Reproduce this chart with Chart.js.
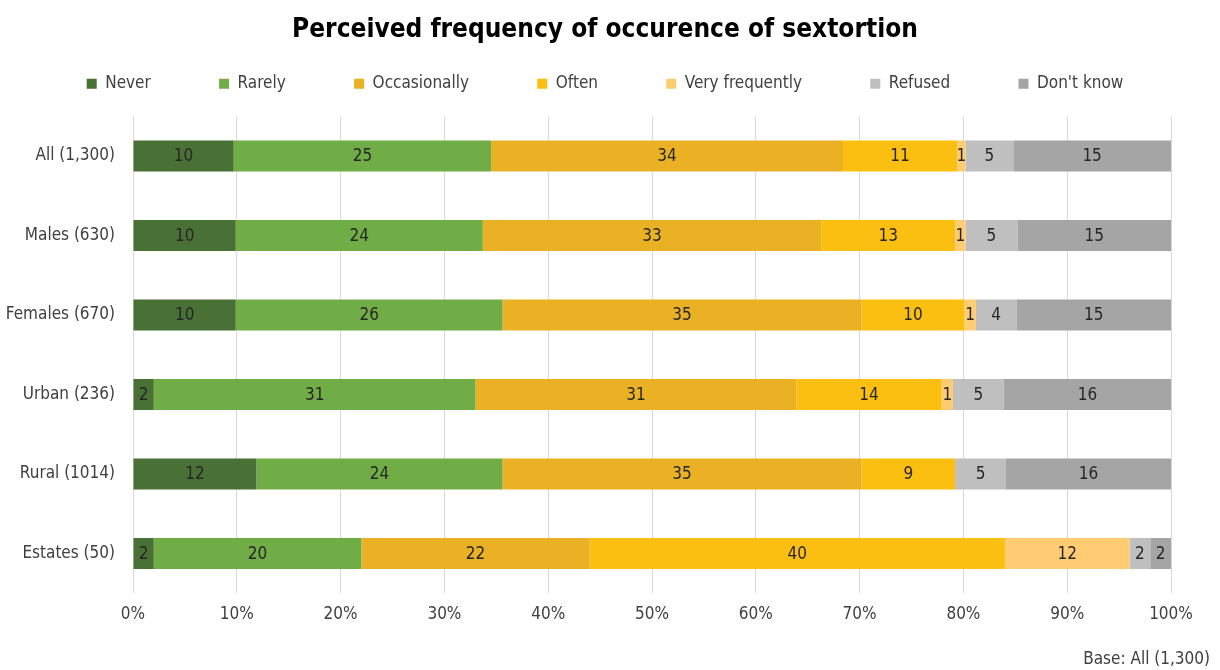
<!DOCTYPE html>
<html>
<head>
<meta charset="utf-8">
<title>Perceived frequency of occurence of sextortion</title>
<script src="https://cdn.jsdelivr.net/npm/chart.js@4.4.1/dist/chart.umd.min.js"></script>
<style>
  html, body { margin: 0; padding: 0; background: #fff; }
  #wrap { width: 1220px; height: 670px; position: relative; }
</style>
</head>
<body>
<div id="wrap"><canvas id="chart"></canvas></div>
<script>
// values (percent of each group)
const categories = ['All (1,300)', 'Males (630)', 'Females (670)', 'Urban (236)', 'Rural (1014)', 'Estates (50)'];
const seriesNames = ['Never', 'Rarely', 'Occasionally', 'Often', 'Very frequently', 'Refused', "Don't know"];
const never          = [9.7, 9.9, 9.9, 2.0, 11.9, 2];
const rarely         = [24.8, 23.8, 25.7, 31.0, 23.7, 20];
const occasionally   = [33.9, 32.6, 34.6, 30.9, 34.6, 22];
const often          = [11.0, 12.9, 9.9, 14.0, 9.0, 40];
const veryFrequently = [0.8, 1.0, 1.1, 1.1, 0, 12];
const refused        = [4.6, 5.0, 3.9, 4.9, 4.9, 2];
const dontKnow       = [15.2, 14.8, 14.9, 16.1, 15.9, 2];
const xTicks = [0, 10, 20, 30, 40, 50, 60, 70, 80, 90, 100];

const colors = ['#4a7135', '#70ad47', '#e9b123', '#fbbf12', '#ffcc73', '#bfbfbf', '#a5a5a5'];
const FONT = "'Liberation Sans Narrow', 'DejaVu Sans Condensed', 'Liberation Sans', sans-serif";
const TEXT = '#404040';
const SIZE = 17;
const LEGEND_GAP = 14;

Chart.defaults.font.family = FONT;
Chart.defaults.font.size = SIZE;
Chart.defaults.color = TEXT;

const values = [never, rarely, occasionally, often, veryFrequently, refused, dontKnow];

const datasets = seriesNames.map((name, i) => ({
  label: name,
  data: values[i],
  backgroundColor: colors[i],
  borderWidth: 0,
  barPercentage: 0.39,
  categoryPercentage: 1,
}));

// extra room under the legend row
const legendGap = {
  id: 'legendGap',
  afterInit(chart) {
    const fit = chart.legend.fit;
    chart.legend.fit = function () {
      fit.call(this);
      this.height += LEGEND_GAP;
    };
  }
};

// rounded value in the middle of each segment
const segmentLabels = {
  id: 'segmentLabels',
  afterDatasetsDraw(chart) {
    const ctx = chart.ctx;
    ctx.save();
    ctx.font = SIZE + 'px ' + FONT;
    ctx.fillStyle = '#262626';
    ctx.textAlign = 'center';
    ctx.textBaseline = 'middle';
    chart.data.datasets.forEach((ds, di) => {
      const meta = chart.getDatasetMeta(di);
      meta.data.forEach((bar, i) => {
        const v = ds.data[i];
        if (!v) return;
        const { x, base, y } = bar.getProps(['x', 'base', 'y'], true);
        ctx.fillText(String(Math.round(v)), (x + base) / 2, y + 1);
      });
    });
    ctx.restore();
  }
};

new Chart(document.getElementById('chart'), {
  type: 'bar',
  data: { labels: categories, datasets },
  options: {
    indexAxis: 'y',
    responsive: true,
    maintainAspectRatio: false,
    animation: false,
    layout: { padding: { left: 0, right: 10, top: 0, bottom: 0 } },
    plugins: {
      title: {
        display: true,
        text: 'Perceived frequency of occurence of sextortion',
        color: '#000',
        font: { size: 26, weight: 'bold', family: FONT },
        padding: { top: 15, bottom: 19 },
      },
      legend: {
        position: 'top',
        labels: {
          boxWidth: 10,
          boxHeight: 10,
          padding: 10,
          color: TEXT,
          font: { size: SIZE },
          generateLabels(chart) {
            const items = Chart.defaults.plugins.legend.labels.generateLabels(chart);
            items.forEach((it, i) => {
              if (i < items.length - 1) it.text = it.text + ' '.repeat(12);
            });
            return items;
          }
        }
      },
      subtitle: {
        display: true,
        position: 'bottom',
        align: 'end',
        text: 'Base: All (1,300)',
        color: TEXT,
        font: { size: SIZE },
        padding: { top: 14, bottom: 0 },
      },
      tooltip: { enabled: false },
    },
    scales: {
      x: {
        stacked: true,
        min: 0,
        max: 100,
        afterBuildTicks(scale) { scale.ticks = xTicks.map(v => ({ value: v })); },
        afterFit(scale) { scale.paddingRight = 49; },
        grid: { color: '#d9d9d9', lineWidth: 1, drawTicks: false },
        border: { display: false },
        ticks: {
          padding: 11,
          color: TEXT,
          font: { size: SIZE },
          callback: v => v + '%',
        }
      },
      y: {
        stacked: true,
        afterFit(scale) {
          scale.width = 133;
          scale.paddingTop = 0;
          scale.paddingBottom = 0;
        },
        grid: { display: false, drawTicks: false },
        border: { display: false },
        ticks: {
          padding: 18,
          color: TEXT,
          font: { size: SIZE },
        }
      }
    }
  },
  plugins: [legendGap, segmentLabels]
});
</script>
</body>
</html>
